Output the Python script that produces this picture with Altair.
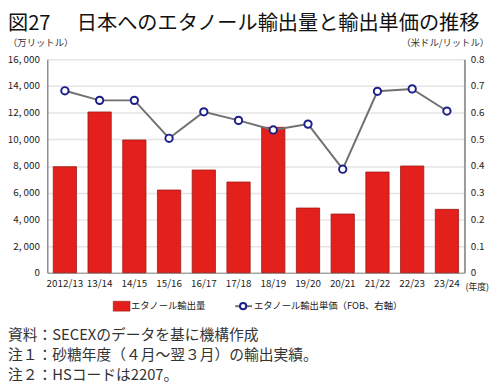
import altair as alt
import pandas as pd

years = ["2012/13", "13/14", "14/15", "15/16", "16/17", "17/18",
         "18/19", "19/20", "20/21", "21/22", "22/23", "23/24"]
volume = [7950, 12050, 9950, 6200, 7700, 6800, 10900, 4850, 4400, 7550, 8000, 4750]
price = [0.682, 0.646, 0.646, 0.504, 0.603, 0.571, 0.535, 0.557, 0.388, 0.680, 0.689, 0.606]

title_main = "日本へのエタノール輸出量と輸出単価の推移"
title_num = "図27"
left_unit = "（万リットル）"
right_unit = "（米ドル/リットル）"
x_unit = "(年度)"
legend_bar = "エタノール輸出量"
legend_line = "エタノール輸出単価（FOB、右軸）"
notes = ["資料：SECEXのデータを基に機構作成",
         "注１：砂糖年度（４月～翌３月）の輸出実績。",
         "注２：HSコードは2207。"]

FONT = "Noto Sans CJK JP"
df = pd.DataFrame({"year": years, "volume": volume, "price": price})

xenc = alt.X("year:N", sort=years, title=None,
             scale=alt.Scale(paddingInner=0.33, paddingOuter=0.17),
             axis=alt.Axis(labelAngle=0, labelFont=FONT, labelFontSize=10, labelColor="#222",
                           domainColor="#888", ticks=False, labelPadding=6, grid=False))

bars = alt.Chart(df).mark_bar(color="#e3201b", stroke="#9e1a14", strokeWidth=0.8).encode(
    x=xenc,
    y=alt.Y("volume:Q", title=None,
            scale=alt.Scale(domain=[0, 16000], nice=False),
            axis=alt.Axis(values=list(range(0, 16001, 2000)),
                          labelExpr="replace(format(datum.value, ','), ',', ', ')",
                          labelFont=FONT, labelFontSize=10, labelColor="#222",
                          domainColor="#555", ticks=False, labelPadding=8,
                          gridColor="#e4e4e4", gridWidth=1.5, orient="left"))
)

yprice = alt.Y("price:Q", title=None,
               scale=alt.Scale(domain=[0, 0.8], nice=False),
               axis=alt.Axis(values=[0, 0.1, 0.2, 0.3, 0.4, 0.5, 0.6, 0.7, 0.8],
                             labelExpr="datum.value == 0 ? '0' : format(datum.value, '.1f')",
                             labelFont=FONT, labelFontSize=10, labelColor="#222",
                             domainColor="#999", domainWidth=2, ticks=False, labelPadding=6,
                             grid=False, orient="right"))

line = alt.Chart(df).mark_line(color="#707070", strokeWidth=2).encode(
    x=alt.X("year:N", sort=years), y=yprice)
pts = alt.Chart(df).mark_point(shape="circle", filled=True, fill="white", stroke="#1c1f8a",
                               strokeWidth=2, size=55, opacity=1).encode(
    x=alt.X("year:N", sort=years), y=yprice)

price_layer = alt.layer(line, pts)

one = pd.DataFrame({"a": [0]})

def txt(text, x, y, size, align="left", color="#111"):
    return alt.Chart(one).mark_text(text=text, font=FONT, fontSize=size, align=align,
                                    baseline="middle", color=color).encode(
        x=alt.value(x), y=alt.value(y))

annots = [
    txt(title_num, -40, -36, 20.5),
    txt(title_main, 30, -36, 20.5),
    txt(left_unit, -40, -17, 9.5, color="#333"),
    txt(right_unit, 449, -17, 9.5, align="right", color="#333"),
    txt(x_unit, 425, 232, 9, color="#222"),
    txt(legend_bar, 85, 251, 9.5, color="#222"),
    txt(legend_line, 210, 251, 9.5, color="#222"),
    txt(notes[0], -40, 280, 15, color="#333"),
    txt(notes[1], -40, 301, 15, color="#333"),
    txt(notes[2], -40, 321, 15, color="#333"),
]

leg_rect = alt.Chart(one).mark_rect(color="#e3201b", stroke="#9e1a14", strokeWidth=0.6).encode(
    x=alt.value(67), x2=alt.value(84), y=alt.value(246), y2=alt.value(256))
leg_rule = alt.Chart(one).mark_rule(color="#707070", strokeWidth=2).encode(
    x=alt.value(191), x2=alt.value(208), y=alt.value(251))
leg_pt = alt.Chart(one).mark_point(shape="circle", filled=True, fill="white", stroke="#1c1f8a",
                                   strokeWidth=2, size=40, opacity=1).encode(
    x=alt.value(199), y=alt.value(251))

chart = alt.layer(bars, price_layer, leg_rect, leg_rule, leg_pt, *annots).resolve_scale(
    y="independent"
).properties(
    width=424, height=217,
    autosize=alt.AutoSizeParams(type="none"),
    padding={"left": 40, "top": 49, "right": 28, "bottom": 112},
    background="white"
).configure_view(stroke=None)

chart.save("out.html", embed_options={"renderer": "svg", "actions": False})
